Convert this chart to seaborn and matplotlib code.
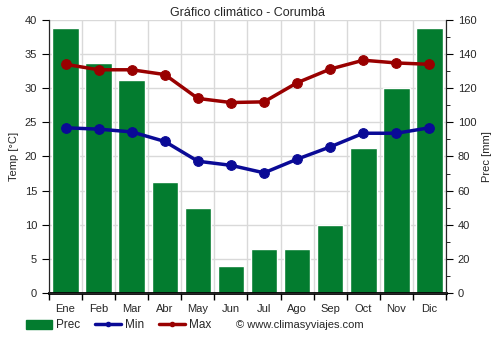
import matplotlib
matplotlib.use("Agg")
import matplotlib.pyplot as plt
import seaborn as sns
import pandas as pd
import numpy as np
from matplotlib.lines import Line2D
from matplotlib.patches import Patch

months = ["Ene", "Feb", "Mar", "Abr", "May", "Jun", "Jul", "Ago", "Sep", "Oct", "Nov", "Dic"]
prec = [155, 135, 125, 65, 50, 16, 26, 26, 40, 85, 120, 155]
tmin = [24.2, 24.0, 23.6, 22.2, 19.3, 18.7, 17.6, 19.6, 21.4, 23.4, 23.4, 24.2]
tmax = [33.5, 32.7, 32.7, 32.0, 28.5, 27.9, 28.0, 30.8, 32.8, 34.1, 33.7, 33.5]

sns.set_style("white")
plt.rcParams['font.family'] = ['Liberation Sans', 'DejaVu Sans']

df = pd.DataFrame({"month": months, "prec": prec, "tmin": tmin, "tmax": tmax})

fig = plt.figure(figsize=(5, 3.5), dpi=100)
ax = fig.add_axes([0.098, 0.163, 0.794, 0.78])
ax2 = ax.twinx()

green = "#037c2f"
blue = "#0a0a96"
red = "#990000"

sns.barplot(data=df, x="month", y="prec", color=green, width=0.8, saturation=1, ax=ax, zorder=2)
ax.set_ylim(0, 160)
ax.set_xlim(-0.5, 11.5)
ax.set_xlabel("")
ax.set_ylabel("")
ax.set_yticks([])
ax.set_xticks(np.arange(12))
ax.set_xticklabels(months)
ax.set_xticks(np.arange(-0.5, 12, 1), minor=True)
ax.tick_params(axis="x", which="major", length=0, labelsize=8, pad=8)
ax.tick_params(axis="x", which="minor", bottom=True, length=5, width=1, color="black", direction="out")
ax.grid(False)
ax.xaxis.grid(True, which="minor", color="#d9d9d9", lw=1, zorder=0)
ax.set_axisbelow(True)
ax.spines["top"].set_visible(False)
ax.spines["left"].set_color("black")
ax.spines["right"].set_color("black")
ax.spines["bottom"].set_color("black")
ax.spines["bottom"].set_linewidth(2)

# horizontal grid on the bar axis at 20 mm steps (= 5 °C steps)
for v in np.arange(20, 161, 20):
    ax.axhline(v, color="#d9d9d9", lw=1, zorder=0)

# precipitation axis on the right
ax.yaxis.tick_right()
ax.yaxis.set_label_position("right")
ax.set_yticks(np.arange(0, 161, 20))
ax.set_yticks(np.arange(0, 161, 10), minor=True)
ax.set_ylabel("Prec [mm]", fontsize=8)
ax.tick_params(axis="y", which="both", right=True, left=False, labelright=True, labelleft=False,
               direction="out", color="black", labelsize=8)
ax.tick_params(axis="y", which="major", length=5)
ax.tick_params(axis="y", which="minor", length=3)

sns.lineplot(x=np.arange(12), y=df["tmax"], color=red, lw=2.5, marker="o", markersize=7,
             markeredgecolor=red, ax=ax2)
sns.lineplot(x=np.arange(12), y=df["tmin"], color=blue, lw=2.5, marker="o", markersize=7,
             markeredgecolor=blue, ax=ax2)
ax2.set_ylim(0, 40)
ax2.yaxis.tick_left()
ax2.yaxis.set_label_position("left")
ax2.set_yticks(np.arange(0, 41, 5))
ax2.set_ylabel("Temp [°C]", fontsize=8)
ax2.tick_params(axis="y", left=True, right=False, labelleft=True, labelright=False,
                length=5, direction="out", color="black", labelsize=8)
ax2.grid(False)
ax2.spines["top"].set_visible(False)

ax.set_title("Gráfico climático - Corumbá", fontsize=9, pad=3)

handles = [Patch(color=green, label="Prec"),
           Line2D([0], [0], color=blue, lw=2.5, marker="o", markersize=3, label="Min"),
           Line2D([0], [0], color=red, lw=2.5, marker="o", markersize=3, label="Max")]
fig.legend(handles=handles, loc="center left", bbox_to_anchor=(0.03, 0.07), ncol=3, frameon=False,
           fontsize=8.5, handlelength=2.2, columnspacing=1.2, handletextpad=0.4)
fig.text(0.472, 0.07, "© www.climasyviajes.com", fontsize=8, va="center", ha="left")

fig.savefig("out.png", dpi=100)
